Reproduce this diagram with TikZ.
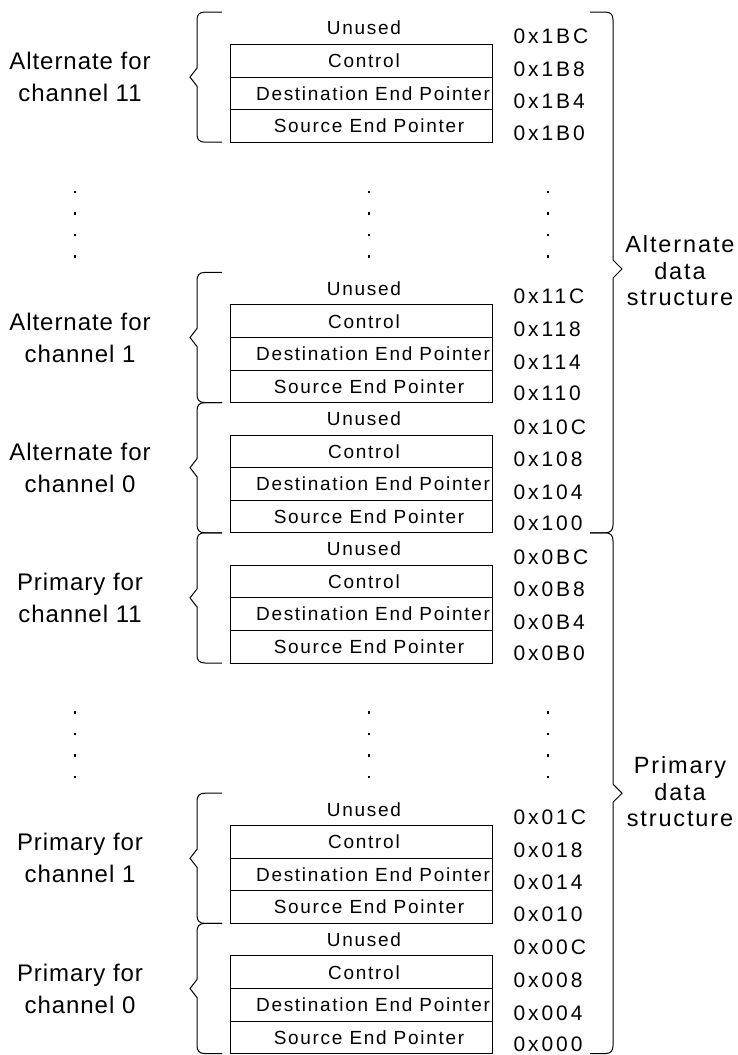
\documentclass[tikz,border=0pt]{standalone}
\usepackage{fontspec}
\setmainfont{Liberation Sans}
\newfontfamily\cellfont[LetterSpace=9]{Liberation Sans}
\newfontfamily\addrfont[LetterSpace=14]{Liberation Sans}
\newfontfamily\lblfont[LetterSpace=4]{Liberation Sans}
\newfontfamily\sidefont[LetterSpace=8]{Liberation Sans}
\begin{document}
\begin{tikzpicture}[x=1pt,y=-1pt,line width=1pt,
  cell/.style={draw,minimum width=262pt,minimum height=32.55pt,inner sep=0pt,outer sep=0pt},
  celltxt/.style={inner sep=0pt,font=\cellfont\fontsize{19}{22}\selectfont},
  addr/.style={anchor=west,inner sep=0pt,font=\addrfont\fontsize{21}{24}\selectfont},
  lbl/.style={align=center,inner sep=0pt,font=\lblfont\fontsize{24}{32}\selectfont},
  side/.style={align=center,inner sep=0pt,font=\sidefont\fontsize{23.5}{26.5}\selectfont},
  brace/.style={line width=1pt,line join=miter},
  dot/.style={fill=black,inner sep=0pt,minimum size=2.2pt,rectangle}]
\path[use as bounding box,fill=white] (0,0) rectangle (737,1055);
\def\h{32.55}
\foreach \n/\T/\la/\lb/\aa/\ab/\ac/\ad in {
  a/12/Alternate for/channel 11/0x1BC/0x1B8/0x1B4/0x1B0,
  b/272.4/Alternate for/channel 1/0x11C/0x118/0x114/0x110,
  c/402.6/Alternate for/channel 0/0x10C/0x108/0x104/0x100,
  d/532.8/Primary for/channel 11/0x0BC/0x0B8/0x0B4/0x0B0,
  e/793.2/Primary for/channel 1/0x01C/0x018/0x014/0x010,
  f/923.4/Primary for/channel 0/0x00C/0x008/0x004/0x000}{
  \pgfmathsetmacro\M{\T+2*\h}
  \pgfmathsetmacro\B{\T+4*\h}
  \node[cell] (c\n) at (361,{\T+1.5*\h}) {};
  \node[cell] (d\n) at (361,{\T+2.5*\h}) {};
  \node[cell] (s\n) at (361,{\T+3.5*\h}) {};
  \node[celltxt] (tu\n) at (364,{\T+16}) {Unused};
  \node[celltxt] (tc\n) at (364,{\T+1.5*\h}) {Control};
  \node[celltxt] (td\n) at (373,{\T+2.5*\h}) {Destination End Pointer};
  \node[celltxt] (ts\n) at (369,{\T+3.5*\h}) {Source End Pointer};
  \node[addr] (a1\n) at (513,{\T+0.5*\h+8}) {\aa};
  \node[addr] (a2\n) at (513,{\T+1.5*\h+8}) {\ab};
  \node[addr] (a3\n) at (513,{\T+2.5*\h+8}) {\ac};
  \node[addr] (a4\n) at (513,{\T+3.5*\h+7}) {\ad};
  \node[lbl] (l\n) at (80,\M) {\la\\\lb};
  \draw[brace] (222,\T) -- (205,\T) .. controls (199,\T) and (197,{\T+3}) .. (197,{\T+8})
    -- (197,{\M-9}) -- (190,\M) -- (197,{\M+9}) -- (197,{\B-8})
    .. controls (197,{\B-3}) and (199,\B) .. (205,\B) -- (222,\B);
}
% right braces
\foreach \T/\M/\B in {12/269/532.8, 532.8/793.2/1053.6}{
  \draw[brace] (590,\T) -- (605,\T) .. controls (611,\T) and (613,{\T+3}) .. (613,{\T+8})
    -- (613,{\M-9}) -- (622,\M) -- (613,{\M+9}) -- (613,{\B-8})
    .. controls (613,{\B-3}) and (611,\B) .. (605,\B) -- (590,\B);
}
\node[side] (altds) at (680,271) {Alternate\\data\\structure};
\node[side] (prids) at (680,792) {Primary\\data\\structure};
% dots
\foreach \y in {192,213.5,235,256.5,712.5,734,755.5,777}{
  \node[dot] at (75,\y) {};
  \node[dot] at (369,\y) {};
  \node[dot] at (548,\y) {};
}
\end{tikzpicture}
\end{document}
